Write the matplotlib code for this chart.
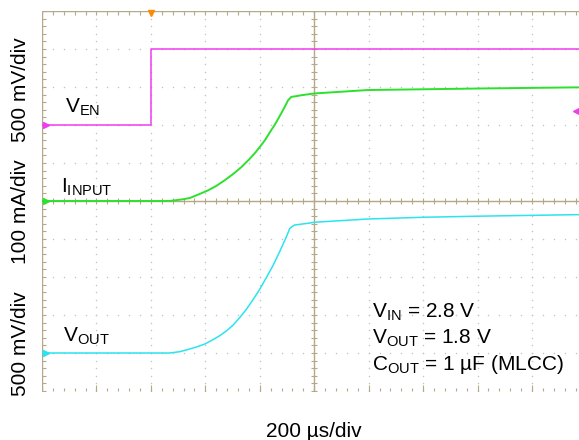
import matplotlib
matplotlib.use('Agg')
import matplotlib.pyplot as plt
import numpy as np

plt.rcParams['font.family'] = 'Liberation Sans'
plt.rcParams['mathtext.fontset'] = 'custom'
plt.rcParams['mathtext.rm'] = 'Liberation Sans'
plt.rcParams['mathtext.it'] = 'Liberation Sans:italic'

# time base (us), 200 us/div
t_ven = [-1000, -600, 1000]
v_en = [0.0, 1.0, 1.0]          # V

t_in = [-1000, -531, -482, -457, -421, -390, -359, -329, -298, -267, -237, -218,
        -200, -181, -164, -145, -127, -108, -96, -84, -65, -50, 0, 197, 400, 600,
        960, 1000]
i_input = [0, 0, 4.5, 7.9, 18.4, 28, 40, 54.5, 71, 89.5, 111, 126,
           142, 160, 179.5, 200.5, 223, 248, 265, 274, 276, 278, 283, 292, 294, 296,
           299, 299]   # mA

t_out = [-1000, -531, -494, -457, -433, -402, -372, -347, -323, -298, -274, -249,
         -225, -200, -176, -151, -127, -102, -90, -80, -72, -16, 0, 197, 400,
         600, 960, 1000]
v_out = [0, 0, 0.017, 0.053, 0.079, 0.118, 0.175, 0.228, 0.289, 0.367, 0.464, 0.576,
         0.700, 0.839, 0.991, 1.153, 1.332, 1.530, 1.637, 1.667, 1.684, 1.71, 1.72,
         1.763, 1.786, 1.80, 1.82, 1.82]   # V

trig_time = -600
trig_level = 0.18   # V on the EN channel

# channel setup: (offset in div, units per div)
ch_en = (7, 0.5)
ch_in = (5, 100)
ch_out = (1, 0.5)


def to_div(vals, ch):
    return ch[0] + np.array(vals) / ch[1]


W, H = 579, 440
fig = plt.figure(figsize=(W / 100, H / 100), dpi=100)
ax = fig.add_axes([42 / W, 49 / H, 544.4 / W, 380 / H])
ax.set_xlim(-1000, 1000)
ax.set_ylim(0, 10)
ax.set_axis_off()

frame = '#b5a888'
dots = '#c4c4c4'

# -- graticule dots
xmaj = np.arange(-1000, 1001, 200)
ymaj = np.arange(0, 11, 1)
xmin = np.arange(-1000, 1001, 40)
ymin = np.arange(0, 10.01, 0.2)
for x in xmaj[1:-1]:
    if x != 0:
        ax.scatter(np.full(len(ymin), x), ymin, s=1.2, color=dots, lw=0, zorder=1)
for y in ymaj[1:-1]:
    if y != 5:
        ax.scatter(xmin, np.full(len(xmin), y), s=1.2, color=dots, lw=0, zorder=1)

# -- frame and center lines
ax.axvline(-1000, color=frame, lw=1.0, zorder=2)
ax.axhline(10, color=frame, lw=1.0, zorder=2)
ax.axvline(0, color=frame, lw=1.0, zorder=2)
ax.axhline(5, color=frame, lw=1.0, zorder=2)

# ticks: left edge, top edge, bottom edge, center lines
ax.plot(np.full(len(ymin), -1000), ymin, ls='none', marker=1, ms=3, mew=0.8, color=frame, zorder=2)
ax.plot(xmin, np.full(len(xmin), 10), ls='none', marker=3, ms=3, mew=0.8, color=frame, zorder=2)
ax.plot(xmin, np.zeros(len(xmin)), ls='none', marker=2, ms=2.5, mew=0.8, color=frame, zorder=2)
ax.plot(xmaj, np.zeros(len(xmaj)), ls='none', marker=2, ms=4.5, mew=0.8, color=frame, zorder=2)
ax.plot(np.zeros(len(ymin)), ymin, ls='none', marker='_', ms=5, mew=0.8, color=frame, zorder=2)
ax.plot(xmin, np.full(len(xmin), 5), ls='none', marker='|', ms=5, mew=0.8, color=frame, zorder=2)

# -- traces
c_en = '#f03cf0'
c_in = '#2ee02e'
c_out = '#2ae4ee'
ax.plot(t_ven, to_div(v_en, ch_en), color=c_en, lw=1.1, drawstyle='steps-post', zorder=3)
ax.plot(t_in, to_div(i_input, ch_in), color=c_in, lw=1.4, zorder=3)
ax.plot(t_out, to_div(v_out, ch_out), color=c_out, lw=1.1, zorder=3)

# ground markers, trigger markers
for ch, c in [(ch_en, c_en), (ch_in, c_in), (ch_out, c_out)]:
    ax.plot([-985], [ch[0]], marker='>', ms=4, color=c, clip_on=False, zorder=4)
ax.plot([trig_time], [9.95], marker='v', ms=5, color='#ff8a00', clip_on=False, zorder=4)
ax.plot([962], to_div([trig_level], ch_en), marker='<', ms=5, color=c_en, clip_on=False, zorder=4)


def px(x, y):
    return x / W, 1 - y / H


fs = 15
fig.text(*px(20.5, 90), '500 mV/div', rotation=90, ha='center', va='center', fontsize=fs)
fig.text(*px(20.5, 211.5), '100 mA/div', rotation=90, ha='center', va='center', fontsize=fs)
fig.text(*px(20.5, 343.5), '500 mV/div', rotation=90, ha='center', va='center', fontsize=fs)
fig.text(*px(314, 431), '200 \u00b5s/div', ha='center', va='center', fontsize=fs)

fig.text(*px(65, 113), r'V$_{\mathrm{EN}}$', ha='left', va='baseline', fontsize=fs)
fig.text(*px(61, 192.5), r'I$_{\mathrm{INPUT}}$', ha='left', va='baseline', fontsize=fs)
fig.text(*px(63, 341.5), r'V$_{\mathrm{OUT}}$', ha='left', va='baseline', fontsize=fs)

fig.text(*px(372, 318), r'V$_{\mathrm{IN}}$ = 2.8 V', ha='left', va='baseline', fontsize=fs)
fig.text(*px(372, 343.5), r'V$_{\mathrm{OUT}}$ = 1.8 V', ha='left', va='baseline', fontsize=fs)
fig.text(*px(372, 370), r'C$_{\mathrm{OUT}}$ = 1 ' + '\u00b5F (MLCC)', ha='left', va='baseline', fontsize=fs)

fig.savefig('out.png', dpi=100)
